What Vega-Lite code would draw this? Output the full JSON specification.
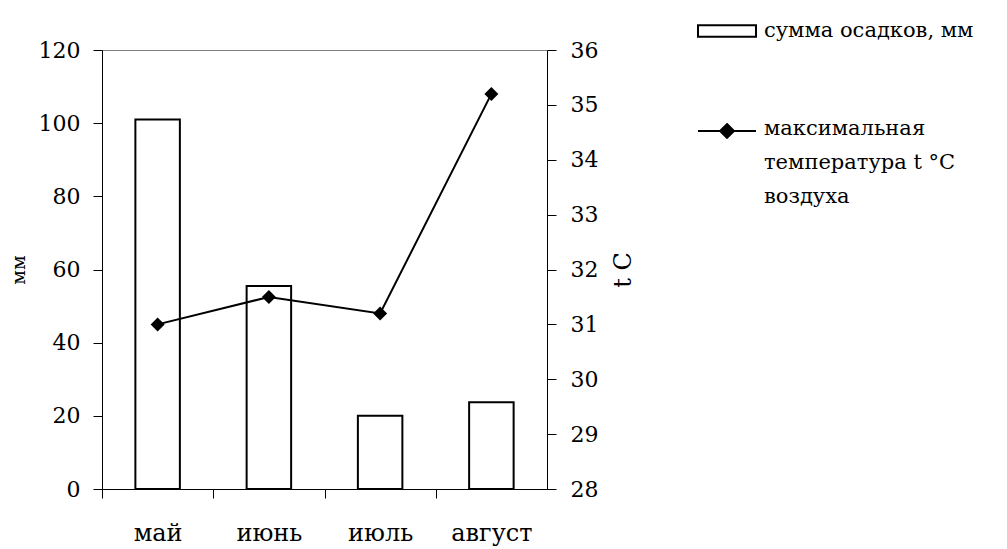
{
  "$schema": "https://vega.github.io/schema/vega-lite/v6.json",
  "width": 445,
  "height": 439,
  "autosize": "none",
  "padding": {"left": 102, "top": 50, "right": 460, "bottom": 60},
  "background": "white",
  "config": {
    "font": "DejaVu Serif",
    "view": {"stroke": "#808080", "strokeWidth": 1},
    "axis": {
      "domainColor": "black",
      "domainWidth": 1,
      "tickColor": "black",
      "tickWidth": 1,
      "labelColor": "black",
      "titleColor": "black",
      "labelFont": "DejaVu Serif",
      "titleFont": "DejaVu Serif",
      "titleFontWeight": "normal",
      "grid": false
    },
    "legend": {"labelColor": "black", "labelFont": "DejaVu Serif"}
  },
  "data": {
    "values": [
      {"month": "май", "precip": 101, "temp": 31.0},
      {"month": "июнь", "precip": 55.5, "temp": 31.5},
      {"month": "июль", "precip": 20, "temp": 31.2},
      {"month": "август", "precip": 23.7, "temp": 35.2}
    ]
  },
  "layer": [
    {
      "mark": {"type": "bar", "stroke": "black", "strokeWidth": 2},
      "encoding": {
        "x": {
          "field": "month",
          "type": "nominal",
          "sort": null,
          "scale": {"paddingInner": 0.6, "paddingOuter": 0.3},
          "axis": {
            "title": null,
            "labelAngle": 0,
            "tickSize": 9,
            "tickOffset": -55.625,
            "labelOffset": 55.625,
            "labelFont": "DejaVu Serif",
            "labelFontSize": 24,
            "labelPadding": 23,
            "encode": {"ticks": {"update": {"y": {"value": -9}}}}
          }
        },
        "y": {
          "field": "precip",
          "type": "quantitative",
          "scale": {"domain": [0, 120]},
          "axis": {
            "title": "мм",
            "values": [0, 20, 40, 60, 80, 100, 120],
            "tickSize": 9,
            "labelPadding": 13,
            "labelFont": "DejaVu Serif",
            "labelFontSize": 22,
            "titleFont": "DejaVu Serif",
            "titleFontSize": 19,
            "titleAngle": -90,
            "titleX": -84,
            "titleBaseline": "middle",
            "encode": {"ticks": {"update": {"x": {"value": 9}}}}
          }
        },
        "fill": {
          "datum": "сумма осадков, мм",
          "scale": {"range": ["white"]},
          "legend": {
            "orient": "none",
            "legendX": 595,
            "legendY": -49,
            "title": null,
            "padding": 0,
            "symbolType": "M-1,-0.2H1V0.2H-1Z",
            "symbolSize": 3364,
            "symbolStrokeWidth": 2,
            "symbolStrokeColor": "black",
            "labelFont": "DejaVu Serif",
            "labelFontSize": 21,
            "labelOffset": 7,
            "labelLimit": 0,
            "encode": {"symbols": {"update": {"stroke": {"value": "black"}, "strokeWidth": {"value": 2}}}}
          }
        }
      }
    },
    {
      "mark": {"type": "line", "strokeWidth": 2},
      "encoding": {
        "x": {"field": "month", "type": "nominal", "sort": null},
        "y": {
          "field": "temp",
          "type": "quantitative",
          "scale": {"domain": [28, 36]},
          "axis": {
            "orient": "right",
            "title": "t C",
            "values": [28, 29, 30, 31, 32, 33, 34, 35, 36],
            "tickSize": 9,
            "labelPadding": 14,
            "labelFont": "DejaVu Serif",
            "labelFontSize": 22,
            "titleFont": "DejaVu Serif",
            "titleFontSize": 24,
            "titleAngle": -90,
            "titleX": 76,
            "titleBaseline": "middle",
            "encode": {"ticks": {"update": {"x": {"value": -9}}}}
          }
        },
        "stroke": {
          "datum": "максимальная\nтемпература t °C\nвоздуха",
          "scale": {"range": ["black"]},
          "legend": {
            "orient": "none",
            "legendX": 595,
            "legendY": 51,
            "title": null,
            "padding": 0,
            "symbolType": "M-1,0H1M0,-0.24L0.24,0L0,0.24L-0.24,0Z",
            "symbolSize": 3364,
            "symbolStrokeWidth": 2,
            "symbolFillColor": "black",
            "labelFont": "DejaVu Serif",
            "labelFontSize": 21,
            "labelOffset": 7,
            "labelLimit": 0,
            "labelBaseline": "top",
            "labelExpr": "split(datum.label, '\\n')",
            "encode": {
              "symbols": {"update": {"fill": {"value": "black"}, "stroke": {"value": "black"}}},
              "labels": {"update": {"dy": {"value": -13}, "lineHeight": {"value": 34}}}
            }
          }
        }
      }
    },
    {
      "mark": {"type": "point", "shape": "diamond", "filled": true, "color": "black", "size": 196, "opacity": 1},
      "encoding": {
        "x": {"field": "month", "type": "nominal", "sort": null},
        "y": {"field": "temp", "type": "quantitative", "scale": {"domain": [28, 36]}, "axis": null}
      }
    }
  ],
  "resolve": {"scale": {"y": "independent"}}
}
